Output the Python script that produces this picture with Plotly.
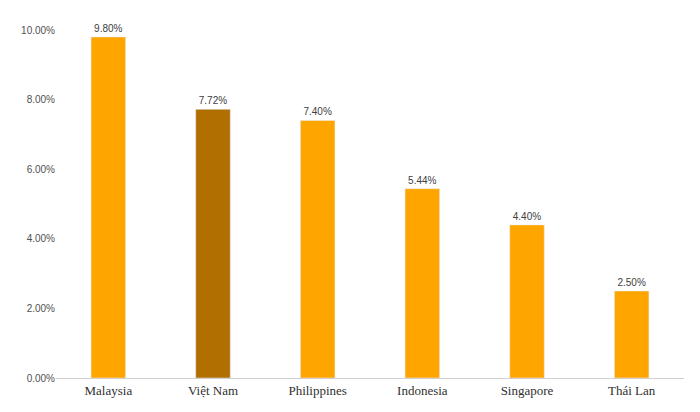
import plotly.graph_objects as go

countries = ["Malaysia", "Việt Nam", "Philippines", "Indonesia", "Singapore", "Thái Lan"]
rates = [9.80, 7.72, 7.40, 5.44, 4.40, 2.50]
labels = ["9.80%", "7.72%", "7.40%", "5.44%", "4.40%", "2.50%"]
tick_vals = [0, 2, 4, 6, 8, 10]
tick_text = ["0.00%", "2.00%", "4.00%", "6.00%", "8.00%", "10.00%"]

colors = ["#FFA500" if c != "Việt Nam" else "#B06F00" for c in countries]

fig = go.Figure(go.Bar(
    x=countries, y=rates, text=labels, textposition="outside",
    marker_color=colors, cliponaxis=False,
    textfont=dict(family="Liberation Sans", size=10, color="#404040"),
))
fig.update_layout(
    width=700, height=412, bargap=0.67, showlegend=False,
    margin=dict(l=48, r=24, t=22, b=42),
    plot_bgcolor="white", paper_bgcolor="white",
)
fig.update_yaxes(range=[0, 10], tickvals=tick_vals, ticktext=tick_text, showgrid=False,
                 zeroline=False, automargin=False,
                 tickfont=dict(family="Liberation Sans", size=10, color="#505050"))
fig.update_xaxes(showline=True, linecolor="#d0d0d0", linewidth=1, automargin=False,
                 tickfont=dict(family="Liberation Serif", size=13, color="#303030"))
fig.write_html("out.html")
